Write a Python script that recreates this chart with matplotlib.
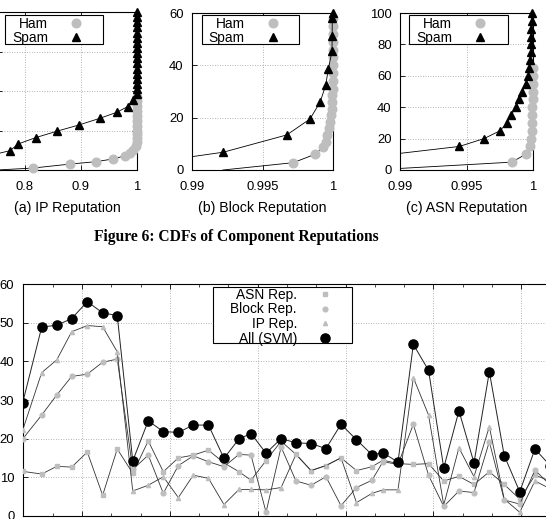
import matplotlib
matplotlib.use('Agg')
import matplotlib.pyplot as plt
from matplotlib.lines import Line2D
from matplotlib.patches import Rectangle
from matplotlib.ticker import FixedLocator, NullFormatter

plt.rcParams['font.family'] = ['Liberation Sans', 'DejaVu Sans']

# ---------------- data: top CDF panels ----------------
ip_spam_x = [0.75, 0.7732, 0.788, 0.8191, 0.8577, 0.8964, 0.9339, 0.9638, 0.9834, 0.9934,
             0.9995, 0.9996, 0.9997, 0.9997, 0.9998, 0.9998, 0.9998, 0.9999, 0.9999, 0.9999,
             0.9999, 0.9999, 1.0, 1.0, 1.0, 1.0, 1.0]
ip_spam_y = [8.2, 9.8, 13.2, 16.4, 19.7, 22.8, 26.2, 29.2, 32.1, 35.4,
             38.3, 40.9, 43.5, 46.0, 48.6, 51.3, 54.0, 56.6, 59.1, 61.6,
             64.5, 67.0, 69.5, 72.3, 74.8, 77.4, 80.0]
ip_ham_x = [0.75, 0.8148, 0.8804, 0.9263, 0.9577, 0.9786, 0.9875, 0.9923,
            0.9990, 0.9994, 0.9996, 0.9997, 0.9998, 0.9998, 0.9999, 0.9999, 0.9999, 1.0, 1.0, 1.0]
ip_ham_y = [0.0, 1.0, 3.0, 4.2, 5.6, 7.2, 8.5, 10.1,
            12.0, 14.0, 16.0, 18.0, 20.0, 22.5, 25.0, 27.5, 30.0, 32.5, 35.0, 37.0]

blk_spam_x = [0.99, 0.99222, 0.99672, 0.99837, 0.99908, 0.99948, 0.99967, 0.99993, 0.99994, 0.99995, 1.0]
blk_spam_y = [5.1, 6.8, 13.4, 19.5, 25.9, 32.3, 38.7, 45.3, 51.3, 58.1, 60.0]
blk_ham_x = [0.9922, 0.99718, 0.99872, 0.99931, 0.99948, 0.99955, 0.99970, 0.99980, 0.99986,
             0.99990, 0.99993, 0.99995, 0.99997, 0.99998, 0.99999, 1.0, 1.0, 1.0, 1.0, 1.0, 1.0, 1.0]
blk_ham_y = [0.0, 2.8, 6.0, 8.7, 10.8, 13.4, 16.0, 18.5, 21.0,
             23.5, 26.0, 28.5, 31.0, 34.0, 37.0, 40.0, 43.0, 46.0, 49.0, 52.0, 55.0, 58.0]

asn_spam_x = [0.99, 0.99446, 0.99632, 0.99752, 0.99805, 0.99835, 0.99872, 0.99897, 0.99920, 0.99945,
              0.99965, 0.99970, 0.99977, 0.99983, 0.99984, 0.99985, 0.99986, 0.99990, 0.99991]
asn_spam_y = [10.6, 15, 20, 25, 30, 35, 40, 45, 50, 55, 60, 65, 70, 75, 80, 85, 90, 95, 100]
asn_ham_x = [0.99, 0.99840, 0.99945, 0.99975, 0.99985, 0.99990, 0.99993, 0.99995, 0.99996,
             0.99997, 0.99998, 0.99998, 0.99999, 0.99999]
asn_ham_y = [1.0, 5, 10, 15, 20, 25, 30, 35, 40, 45, 50, 55, 60, 65]

# ---------------- data: bottom time series ----------------
day = [0.0, 1.25, 2.24, 3.22, 4.25, 5.26, 6.22, 7.24, 8.26, 9.25, 10.24, 11.22,
       12.22, 13.24, 14.23, 15.02, 16.01, 17.0, 17.98, 18.97, 19.95, 20.94, 21.96,
       22.98, 23.7, 24.69, 25.7, 26.7, 27.7, 28.7, 29.69, 30.7, 31.68, 32.7, 33.7, 34.7]
all_svm = [29.3, 48.9, 49.4, 51.1, 55.5, 52.6, 51.9, 14.2, 24.6, 21.8, 21.6, 23.5,
           23.5, 14.9, 19.9, 21.3, 16.2, 20.0, 18.9, 18.7, 17.4, 23.7, 19.7,
           15.8, 16.3, 13.9, 44.4, 37.7, 12.4, 27.2, 13.7, 37.3, 15.6, 6.2, 17.3, 13.0]
asn_rep = [11.5, 10.8, 12.8, 12.6, 16.5, 5.3, 17.3, 11.0, 19.4, 11.4, 15.0, 15.7,
           17.0, 13.7, 11.4, 9.2, 14.3, 19.3, 15.9, 11.7, 13.0, 15.0, 11.7,
           12.7, 14.4, 13.5, 13.3, 13.5, 9.0, 10.2, 8.1, 11.4, 8.1, 4.3, 10.5, 9.0]
block_rep = [19.9, 26.1, 31.3, 36.1, 36.7, 39.8, 40.6, 12.0, 15.7, 5.8, 13.0, 15.5,
             14.0, 12.7, 15.9, 15.7, 0.9, 17.8, 9.0, 7.9, 10.1, 2.6, 7.3,
             9.2, 14.0, 13.3, 23.7, 10.5, 2.4, 6.4, 6.0, 19.2, 4.1, 3.0, 11.8, 8.0]
ip_rep = [22.2, 37.1, 40.4, 47.7, 49.3, 49.0, 42.5, 6.4, 7.9, 10.1, 4.7, 10.5,
          9.7, 2.9, 6.8, 6.8, 6.7, 7.3, 15.9, 11.7, 13.0, 15.0, 3.4,
          5.8, 6.7, 6.7, 35.8, 26.1, 2.8, 17.6, 10.1, 23.1, 4.3, 0.9, 9.0, 7.0]

W, H = 546, 519
fig = plt.figure(figsize=(W / 100, H / 100), dpi=100)

def axes_px(x0, y0, x1, y1):
    return fig.add_axes([x0 / W, 1 - y1 / H, (x1 - x0) / W, (y1 - y0) / H])

def fx(px):
    return px / W

def fy(py):
    return 1 - py / H

GRAY = '#bebebe'
TFS = 9.4     # tick labels
LFS = 10.2    # axis labels
KFS = 9.9     # legend text

def style(ax):
    ax.grid(True, color='#9a9a9a', linestyle=(0, (1, 2)), linewidth=0.6)
    ax.set_axisbelow(True)
    for s in ax.spines.values():
        s.set_linewidth(0.8)
    ax.tick_params(direction='in', length=3.5, width=0.6, labelsize=TFS,
                   top=True, right=True)
    ax.tick_params(axis='x', pad=7.7)
    ax.tick_params(axis='y', pad=6.0)

def key(ax, handles, labels, frame, marker_x, first_row_y, row_step):
    # frame = (x0, y0, x1, y1) in pixels
    x0, y0, x1, y1 = frame
    rect = Rectangle((fx(x0), fy(y1)), fx(x1 - x0), (y1 - y0) / H, transform=fig.transFigure,
                     facecolor='white', edgecolor='black', linewidth=0.8, zorder=9,
                     clip_on=False)
    ax.add_patch(rect)
    fs_px = KFS * 100 / 72
    hl = 2.0
    row_h = fs_px * 1.0
    leg = ax.legend(handles, labels, loc='upper right', markerfirst=False,
                    fontsize=KFS, frameon=False, handlelength=hl,
                    handletextpad=(28 - hl * fs_px / 2) / fs_px, borderpad=0.0,
                    labelspacing=(row_step - row_h) / fs_px, borderaxespad=0.0,
                    bbox_to_anchor=(fx(marker_x + hl * fs_px / 2), fy(first_row_y - 5.4)),
                    bbox_transform=fig.transFigure)
    leg.set_zorder(10)
    return leg

def cdf_panel(ax, sx, sy, hx, hy, xlim, ylim, xt, xtl, yt, label, frame, mx):
    style(ax)
    ax.plot(hx, hy, color='black', lw=0.6, zorder=2)
    ax.plot(hx[1:], hy[1:], linestyle='none', marker='o', ms=6.2, mfc=GRAY, mec=GRAY,
            zorder=3, clip_on=False)
    ax.plot(sx, sy, color='black', lw=0.6, zorder=4)
    ax.plot(sx[1:], sy[1:], linestyle='none', marker='^', ms=5.8, mfc='black', mec='black',
            zorder=5, clip_on=False)
    ax.set_xlim(*xlim)
    ax.set_ylim(*ylim)
    ax.set_xticks(xt)
    ax.set_xticklabels(xtl)
    ax.set_yticks(yt)
    ax.set_xlabel(label, fontsize=LFS, labelpad=6.0)
    handles = [Line2D([], [], linestyle='none', marker='o', ms=6.2, mfc=GRAY, mec=GRAY),
               Line2D([], [], linestyle='none', marker='^', ms=5.8, mfc='black', mec='black')]
    key(ax, handles, ['Ham', 'Spam'], frame, mx, 22.7, 13.5)

# (a) IP reputation
axa = axes_px(-3, 12, 137, 170)
cdf_panel(axa, ip_spam_x, ip_spam_y, ip_ham_x, ip_ham_y, (0.75, 1.0), (0, 80),
          [0.8, 0.9, 1.0], ['0.8', '0.9', '1'], [0, 20, 40, 60, 80], '(a) IP Reputation',
          (5, 15, 103, 44), 76)
axa.tick_params(axis='y', labelleft=False)

# (b) Block reputation
axb = axes_px(192, 13, 333, 170)
cdf_panel(axb, blk_spam_x, blk_spam_y, blk_ham_x, blk_ham_y, (0.99, 1.0), (0, 60),
          [0.99, 0.995, 1.0], ['0.99', '0.995', '1'], [0, 20, 40, 60], '(b) Block Reputation',
          (201.7, 15, 299.3, 44), 272.7)

# (c) ASN reputation
axc = axes_px(400, 13, 533, 170)
cdf_panel(axc, asn_spam_x, asn_spam_y, asn_ham_x, asn_ham_y, (0.99, 1.0), (0, 100),
          [0.99, 0.995, 1.0], ['0.99', '0.995', '1'], [0, 20, 40, 60, 80, 100], '(c) ASN Reputation',
          (409.3, 15, 507.7, 44), 480)

fig.text(fx(236.5), fy(237), 'Figure 6: CDFs of Component Reputations',
         family=['Liberation Serif', 'DejaVu Serif'], weight='bold', fontsize=11.2,
         ha='center', va='center')

# bottom time series
axm = axes_px(22.7, 284.3, 22.7 + 36.5 * 15.2, 515.7)
style(axm)
axm.set_xlim(0, 36.5)
axm.set_ylim(0, 60)
axm.set_yticks([0, 10, 20, 30, 40, 50, 60])
axm.xaxis.set_major_locator(FixedLocator([3.9 + 5.78 * k for k in range(7)]))
axm.xaxis.set_minor_locator(FixedLocator([3.9 + 5.78 * k / 3 for k in range(-2, 20)]))
axm.xaxis.set_major_formatter(NullFormatter())
axm.tick_params(axis='x', which='minor', direction='in', length=2, width=0.5, top=True)

axm.plot(day, asn_rep, color='#333333', lw=0.6, marker='s', ms=3.2, mfc=GRAY, mec=GRAY, zorder=3)
axm.plot(day, block_rep, color='#333333', lw=0.6, marker='o', ms=3.4, mfc=GRAY, mec=GRAY, zorder=3)
axm.plot(day, ip_rep, color='#333333', lw=0.6, marker='^', ms=3.0, mfc=GRAY, mec=GRAY, zorder=3)
axm.plot(day, all_svm, color='#222222', lw=0.7, marker='o', ms=6.6, mfc='black', mec='black', zorder=4)

mh = [Line2D([], [], linestyle='none', marker='s', ms=3.2, mfc=GRAY, mec=GRAY),
      Line2D([], [], linestyle='none', marker='o', ms=3.4, mfc=GRAY, mec=GRAY),
      Line2D([], [], linestyle='none', marker='^', ms=3.0, mfc=GRAY, mec=GRAY),
      Line2D([], [], linestyle='none', marker='o', ms=6.6, mfc='black', mec='black')]
key(axm, mh, ['ASN Rep.', 'Block Rep.', 'IP Rep.', 'All (SVM)'],
    (213.3, 286.7, 351.7, 342.7), 325, 293.3, 14.3)

fig.savefig('out.png', dpi=100)
